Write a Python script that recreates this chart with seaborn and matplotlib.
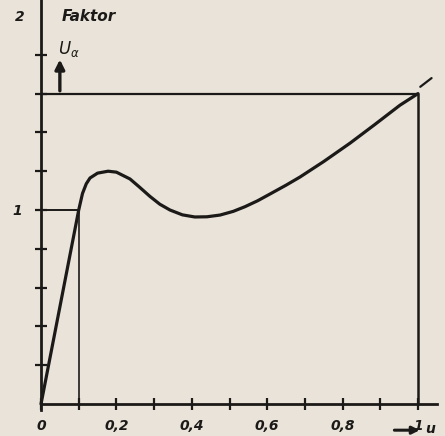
import matplotlib
matplotlib.use('Agg')
import matplotlib.pyplot as plt
import seaborn as sns
import pandas as pd

# Curve: factor U_alpha over u
u = [0.0, 0.1, 0.11, 0.12, 0.13, 0.15, 0.178, 0.2, 0.236, 0.26, 0.289, 0.315,
     0.342, 0.375, 0.408, 0.44, 0.475, 0.51, 0.541, 0.575, 0.607, 0.65, 0.687,
     0.75, 0.82, 0.885, 0.952, 1.0]
faktor = [0.0, 1.0, 1.085, 1.135, 1.165, 1.19, 1.2, 1.195, 1.16, 1.12, 1.07, 1.03,
          1.0, 0.975, 0.964, 0.965, 0.974, 0.993, 1.017, 1.048, 1.082, 1.128, 1.17,
          1.25, 1.345, 1.44, 1.54, 1.6]

# Axis ticks
x_major = [0, 0.2, 0.4, 0.6, 0.8, 1.0]
x_labels = ['0', '0,2', '0,4', '0,6', '0,8', '1']
x_minor = [0.1, 0.3, 0.5, 0.7, 0.9]
y_ticks = [0.2, 0.4, 0.6, 0.8, 1.0, 1.2, 1.4, 1.6, 1.8]
y_labels = ['', '', '', '', '1', '', '', '', '']

paper = '#e9e3d9'
ink = '#1c1a18'

sns.set_style('white')
plt.rcParams['font.family'] = ['DejaVu Sans']

df = pd.DataFrame({'u': u, 'Faktor': faktor})

fig = plt.figure(figsize=(4.45, 4.36), dpi=100, facecolor=paper)
ax = fig.add_axes([0, 0, 1, 1], facecolor=paper)

sns.lineplot(data=df, x='u', y='Faktor', ax=ax, color=ink, lw=2.3)

# helper lines
ax.plot([0, 0.1], [1.0, 1.0], color=ink, lw=1.4)
ax.plot([0.1, 0.1], [0, 1.0], color=ink, lw=1.2)
ax.plot([0, 1.0], [1.6, 1.6], color=ink, lw=1.6)
ax.plot([1.0, 1.0], [0, 1.6], color=ink, lw=1.8)
ax.plot([1.006, 1.036], [1.635, 1.68], color=ink, lw=1.6)

ax.set_xlim(-0.1088, 1.0716)
ax.set_ylim(-0.165, 2.0825)

for s in ['top', 'right']:
    ax.spines[s].set_visible(False)
ax.spines['left'].set_position(('data', 0))
ax.spines['bottom'].set_position(('data', 0))
ax.spines['left'].set_bounds(-0.03, 2.09)
ax.spines['bottom'].set_bounds(0, 1.05)
for s in ['left', 'bottom']:
    ax.spines[s].set_color(ink)
    ax.spines[s].set_linewidth(2.0)

ax.set_xticks(x_major, x_labels)
ax.set_xticks(x_minor, minor=True)
ax.set_yticks(y_ticks, y_labels)
ax.tick_params(axis='both', which='both', direction='inout', length=9,
               width=1.6, color=ink, labelcolor=ink, labelsize=10,
               bottom=True, left=True)
ax.tick_params(axis='x', pad=6)
ax.tick_params(axis='y', pad=9)
for lab in ax.get_xticklabels() + ax.get_yticklabels():
    lab.set_fontstyle('italic')
    lab.set_fontweight('bold')
ax.set_xlabel('')
ax.set_ylabel('')

txt = dict(color=ink, fontstyle='italic', fontweight='bold')
ax.text(-0.045, 1.995, '2', ha='right', va='center', fontsize=10, **txt)
ax.text(0.056, 1.995, 'Faktor', ha='left', va='center', fontsize=11, **txt)
ax.text(0.046, 1.83, r'$\mathit{U}_{\alpha}$', ha='left', va='center', fontsize=12, color=ink)
ax.annotate('', xy=(0.05, 1.79), xytext=(0.05, 1.6),
            arrowprops=dict(arrowstyle='-|>', lw=2.4, color=ink, mutation_scale=14))
# u-axis arrow, cut by the lower edge of the scan
ax.annotate('', xy=(1.012, -0.135), xytext=(0.93, -0.135),
            arrowprops=dict(arrowstyle='-|>', lw=2.2, color=ink, mutation_scale=11),
            annotation_clip=False)
ax.text(1.02, -0.128, 'u', ha='left', va='center', fontsize=10, clip_on=False, **txt)

fig.savefig('out.png', dpi=100, facecolor=paper)
